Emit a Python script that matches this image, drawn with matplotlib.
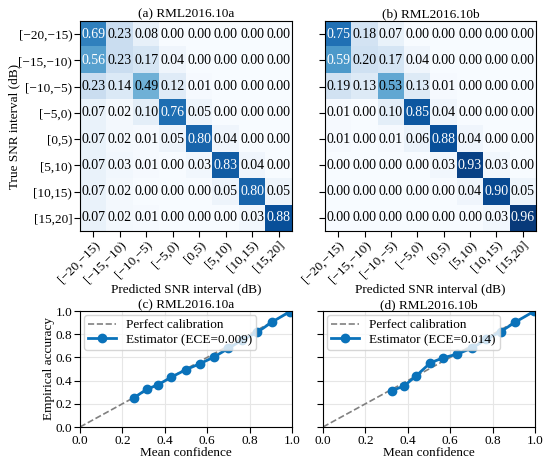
import numpy as np
import matplotlib
matplotlib.use("Agg")
import matplotlib.pyplot as plt

plt.rcParams["font.family"] = ["Liberation Serif", "DejaVu Serif"]

snr_labels = ["[\u221220,\u221215)", "[\u221215,\u221210)", "[\u221210,\u22125)", "[\u22125,0)",
              "[0,5)", "[5,10)", "[10,15)", "[15,20]"]

cm_a = np.array([
    [0.69, 0.23, 0.08, 0.00, 0.00, 0.00, 0.00, 0.00],
    [0.56, 0.23, 0.17, 0.04, 0.00, 0.00, 0.00, 0.00],
    [0.23, 0.14, 0.49, 0.12, 0.01, 0.00, 0.00, 0.00],
    [0.07, 0.02, 0.10, 0.76, 0.05, 0.00, 0.00, 0.00],
    [0.07, 0.02, 0.01, 0.05, 0.80, 0.04, 0.00, 0.00],
    [0.07, 0.03, 0.01, 0.00, 0.03, 0.83, 0.04, 0.00],
    [0.07, 0.02, 0.00, 0.00, 0.00, 0.05, 0.80, 0.05],
    [0.07, 0.02, 0.01, 0.00, 0.00, 0.00, 0.03, 0.88],
])
cm_b = np.array([
    [0.75, 0.18, 0.07, 0.00, 0.00, 0.00, 0.00, 0.00],
    [0.59, 0.20, 0.17, 0.04, 0.00, 0.00, 0.00, 0.00],
    [0.19, 0.13, 0.53, 0.13, 0.01, 0.00, 0.00, 0.00],
    [0.01, 0.00, 0.10, 0.85, 0.04, 0.00, 0.00, 0.00],
    [0.01, 0.00, 0.01, 0.06, 0.88, 0.04, 0.00, 0.00],
    [0.00, 0.00, 0.00, 0.00, 0.03, 0.93, 0.03, 0.00],
    [0.00, 0.00, 0.00, 0.00, 0.00, 0.04, 0.90, 0.05],
    [0.00, 0.00, 0.00, 0.00, 0.00, 0.00, 0.03, 0.96],
])

# reliability curves
conf_a = [0.255, 0.317, 0.366, 0.429, 0.499, 0.566, 0.632, 0.700, 0.765, 0.836, 0.904, 0.99]
acc_a = [0.253, 0.328, 0.362, 0.428, 0.494, 0.546, 0.603, 0.678, 0.750, 0.816, 0.903, 0.995]
conf_b = [0.324, 0.382, 0.437, 0.507, 0.568, 0.634, 0.703, 0.771, 0.838, 0.908, 0.995]
acc_b = [0.313, 0.353, 0.437, 0.554, 0.597, 0.629, 0.681, 0.756, 0.822, 0.905, 0.997]
ece_a = 0.009
ece_b = 0.014

W, H = 550, 463
fig = plt.figure(figsize=(W / 100, H / 100), dpi=100)


def box(l, t, r, b):
    return [l / W, 1 - b / H, (r - l) / W, (b - t) / H]


def heatmap(ax, cm, title, show_y):
    ax.imshow(cm, cmap="Blues", vmin=0, vmax=1, aspect="auto")
    for i in range(cm.shape[0]):
        for j in range(cm.shape[1]):
            v = cm[i, j]
            ax.text(j, i, f"{v:.2f}", ha="center", va="center", fontsize=10,
                    color="white" if v > 0.55 else "black")
    ax.set_xticks(range(len(snr_labels)))
    ax.set_xticklabels(snr_labels, rotation=45, ha="right", rotation_mode="anchor", fontsize=9.5)
    ax.set_yticks(range(len(snr_labels)))
    ax.tick_params(length=4, pad=1.5)
    if show_y:
        ax.set_yticklabels(snr_labels, fontsize=9.5)
        ax.set_ylabel("True SNR interval (dB)", fontsize=9.5)
        ax.yaxis.set_label_coords(-0.283, 0.5)
    else:
        ax.set_yticklabels([])
    ax.set_xlabel("Predicted SNR interval (dB)", fontsize=9.5)
    ax.xaxis.set_label_coords(0.5, -0.25)
    ax.set_title(title, fontsize=9.5, pad=3)


def reliability(ax, conf, acc, ece, title, show_y):
    ax.plot([0, 1], [0, 1], ls="--", color="gray", lw=1.2, label="Perfect calibration")
    ax.plot(conf, acc, "-o", color="#0a72ba", lw=2, ms=6, label=f"Estimator (ECE={ece:.3f})")
    ax.set_xlim(0, 1)
    ax.set_ylim(0, 1)
    ax.set_xticks(np.arange(0, 1.01, 0.2))
    ax.set_yticks(np.arange(0, 1.01, 0.2))
    ax.grid(True, color="#e6e6e6", lw=0.8)
    ax.tick_params(labelsize=9.5, length=4, pad=1.5)
    if show_y:
        ax.set_ylabel("Empirical accuracy", fontsize=9.5)
        ax.yaxis.set_label_coords(-0.118, 0.5)
    else:
        ax.set_yticklabels([])
    ax.set_xlabel("Mean confidence", fontsize=9.5, labelpad=0)
    ax.set_title(title, fontsize=9.5, pad=2)
    ax.legend(loc="upper left", fontsize=9.5, handlelength=2.1, borderpad=0.3,
              labelspacing=0.2, borderaxespad=0.3)


ax_a = fig.add_axes(box(80, 21, 292, 231))
ax_b = fig.add_axes(box(325, 21, 536, 231))
ax_c = fig.add_axes(box(80, 311, 292, 427))
ax_d = fig.add_axes(box(323, 311, 535, 427))

heatmap(ax_a, cm_a, "(a) RML2016.10a", True)
heatmap(ax_b, cm_b, "(b) RML2016.10b", False)
reliability(ax_c, conf_a, acc_a, ece_a, "(c) RML2016.10a", True)
reliability(ax_d, conf_b, acc_b, ece_b, "(d) RML2016.10b", False)

fig.savefig("out.png", dpi=100)
